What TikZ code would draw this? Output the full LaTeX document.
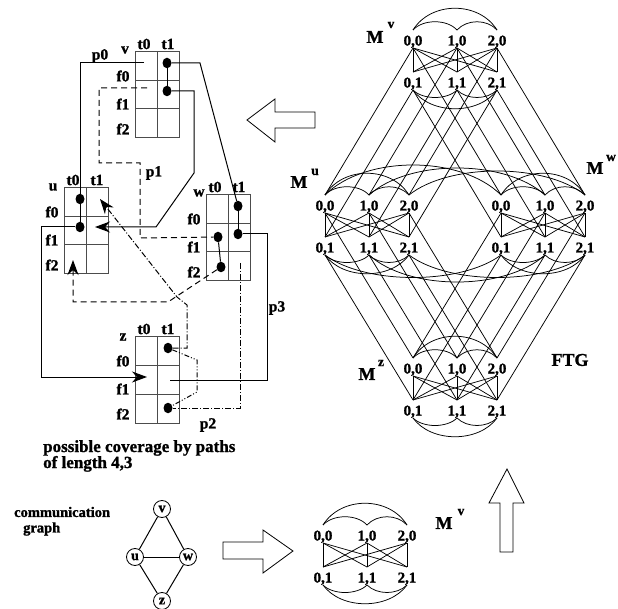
\documentclass[tikz,border=0pt]{standalone}
\usepackage{fontspec}
\setmainfont{Liberation Serif}[BoldFeatures={FakeBold=1.2}]
\usetikzlibrary{arrows.meta,shapes.geometric,calc}
\tikzset{
  txt/.style={inner sep=0pt, font=\bfseries\fontsize{15.5}{17}\selectfont},
  bigtxt/.style={inner sep=0pt, font=\bfseries\fontsize{17}{19}\selectfont},
  lab/.style={inner sep=0pt, anchor=base, font=\bfseries\fontsize{15}{16}\selectfont},
  mbig/.style={inner sep=0pt, font=\bfseries\fontsize{18}{19}\selectfont},
  msup/.style={inner sep=0pt, font=\bfseries\fontsize{13.5}{14}\selectfont},
  tbl/.style={draw=black!70, line width=1pt},
  ln/.style={line width=0.75pt},
  pth/.style={line width=1pt},
  dotn/.style={ellipse, fill=black, inner sep=0pt, minimum width=9pt, minimum height=10.5pt},
  dsh/.style={pth, dash pattern=on 6pt off 4pt},
  dd/.style={pth, dash pattern=on 6pt off 2pt on 1pt off 2pt},
  ddd/.style={pth, dash pattern=on 5pt off 2pt on 1pt off 2pt on 1pt off 2pt},
  tipped/.style={-{Stealth[length=15pt,width=11pt]}},
  cg/.style={circle, draw, line width=0.8pt, minimum size=17pt, inner sep=0pt, font=\bfseries\fontsize{14}{15}\selectfont},
  harrow/.style={draw, line width=0.8pt, fill=white},
}
\newcommand\ctable[3]{%
  \draw[tbl] (#2,#3) rectangle ++(44,86);
  \draw[tbl] (#2+22,#3) -- ++(0,86);
  \draw[tbl] (#2,#3+28.5) -- ++(44,0);
  \draw[tbl] (#2,#3+57) -- ++(44,0);
  \node[txt] (#1-t0) at (#2+9,#3-8) {t0};
  \node[txt] (#1-t1) at (#2+33,#3-8) {t1};
  \node[txt] (#1-f0) at (#2-12,#3+24) {f0};
  \node[txt] (#1-f1) at (#2-12,#3+52) {f1};
  \node[txt] (#1-f2) at (#2-12,#3+77) {f2};
}
\newcommand\ftgmod[3]{%
  \foreach \i/\dx in {0/0,1/44,2/84}{%
    \coordinate (#1-\i-0-a) at (#2+\dx,#3-10);
    \coordinate (#1-\i-0-b) at (#2+\dx,#3+8);
    \coordinate (#1-\i-1-b) at (#2+\dx,#3+32);
    \coordinate (#1-\i-1-a) at (#2+\dx,#3+50);
    \node[lab] (#1-\i-0) at (#2+\dx,#3+5.5) {\i,0};
    \node[lab] (#1-\i-1) at (#2+\dx,#3+47.5) {\i,1};
  }
  \foreach \i in {0,1,2}{\foreach \k in {0,1,2}{\draw[ln] (#1-\i-0-b) -- (#1-\k-1-b);}}
  \draw[ln] (#1-0-0-a) .. controls +(10,-11) and +(-10,-11) .. (#1-1-0-a);
  \draw[ln] (#1-1-0-a) .. controls +(10,-11) and +(-10,-11) .. (#1-2-0-a);
  \draw[ln] (#1-0-0-a) .. controls +(18,-29) and +(-18,-29) .. (#1-2-0-a);
  \draw[ln] (#1-0-1-a) .. controls +(10,10) and +(-10,10) .. (#1-1-1-a);
  \draw[ln] (#1-1-1-a) .. controls +(10,10) and +(-10,10) .. (#1-2-1-a);
  \draw[ln] (#1-0-1-a) .. controls +(18,25) and +(-18,25) .. (#1-2-1-a);
}
\begin{document}
\begin{tikzpicture}[x=1pt,y=-1pt]
\useasboundingbox (0,0) rectangle (618,609);

% ---------- left: tables ----------
\ctable{tv}{135}{52}
\ctable{tu}{64}{188}
\ctable{tw}{206}{195}
\ctable{tz}{135}{337}
\node[txt] (nv) at (125,50) {v};
\node[txt] (nu) at (53,187) {u};
\node[txt] (nw) at (199,193) {w};
\node[txt] (nz) at (123,337) {z};

\node[dotn] (v1) at (167,63) {};
\node[dotn] (v2) at (167,91) {};
\node[dotn] (u1) at (80,199) {};
\node[dotn] (u2) at (80,227) {};
\node[dotn] (w1) at (238,206) {};
\node[dotn] (w2) at (238,234) {};
\node[dotn] (w3) at (218,237) {};
\node[dotn] (w4) at (221,267) {};
\node[dotn] (z1) at (168,348) {};
\node[dotn] (z2) at (168,408) {};

\coordinate (p0s) at (144,63);
\coordinate (p0e) at (147,377);
\coordinate (p1s) at (147,88);
\coordinate (p1e) at (73,260);
\coordinate (p2s) at (240,263);
\coordinate (ua) at (100,199);
\coordinate (ub) at (95,227);
\coordinate (p3e) at (170,380);

% p0
\draw[pth] (p0s) -| (u1);
\draw[pth] (u1) -- (u2);
\draw[pth,tipped] (u2) -- (41,227) |- (p0e);
% p3
\draw[pth] (v1) -- (200,63) -- (w1);
\draw[pth] (w1) -- (w2);
\draw[pth] (w2) -- (267,234) |- (p3e);
\draw[pth] (v1) -- (v2);
\draw[pth,tipped] (v2) -- (194,91) -- (194,173) -- (156,227) -- (ub);
% p1
\draw[dsh] (p1s) -- (99,88) -- (99,163) -- (140,163) -- (140,238) -- (w3);
\draw[pth] (w3) -- (w4);
\draw[dsh,tipped] (w4) -- (168,302) -- (73,302) -- (p1e);
% p2
\draw[dd] (p2s) |- (z2);
\draw[dd,tipped] (z1) -- (187,348) -- (187,305) -- (177,297) -- (ua);
\draw[ddd] (z1) -- (197,360) -- (197,392) -- (z2);

\node[txt] (lp0) at (100,56) {p0};
\node[txt] (lp1) at (154,173) {p1};
\node[txt] (lp2) at (208,425) {p2};
\node[txt] (lp3) at (277,308) {p3};

\node[bigtxt, anchor=base west] (cov1) at (43,452) {possible coverage by paths};
\node[bigtxt, anchor=base west] (cov2) at (43,468) {of length 4,3};

% ---------- communication graph ----------
\node[txt, anchor=west, font=\bfseries\fontsize{14.5}{15}\selectfont] (cgl1) at (14,512) {communication};
\node[txt, anchor=west, font=\bfseries\fontsize{14.5}{15}\selectfont] (cgl2) at (23,529) {graph};
\node[cg] (cv) at (162,509) {v};
\node[cg] (cu) at (135,557) {u};
\node[cg] (cw) at (188,557) {w};
\node[cg] (cz) at (162,601) {z};
\draw[pth] (cv) -- (cu);
\draw[pth] (cv) -- (cw);
\draw[pth] (cu) -- (cw);
\draw[pth] (cu) -- (cz);
\draw[pth] (cw) -- (cz);

% ---------- hollow arrows ----------
\draw[harrow] (223,542) -- (263,542) -- (263,530) -- (293,551) -- (263,573) -- (263,559) -- (223,559) -- cycle;
\draw[harrow] (315,112) -- (275,112) -- (275,99) -- (247,120) -- (275,142) -- (275,128) -- (315,128) -- cycle;
\draw[harrow] (500,552) -- (500,503) -- (489,503) -- (507,469) -- (524,503) -- (513,503) -- (513,552) -- cycle;

% ---------- FTG ----------
\ftgmod{Mv}{413}{40}
\ftgmod{Mu}{325}{205}
\ftgmod{Mw}{501}{205}
\ftgmod{Mz}{413}{368}
\ftgmod{Mb}{323}{535}

\foreach \i in {0,1,2}{%
  \draw[ln] (Mv-\i-0-b) -- (Mu-\i-0-a);
  \draw[ln] (Mv-\i-1-a) -- (Mu-\i-1-b);
  \draw[ln] (Mv-\i-0-b) -- (Mw-\i-0-a);
  \draw[ln] (Mv-\i-1-a) -- (Mw-\i-1-b);
  \draw[ln] (Mu-\i-0-b) -- (Mz-\i-0-a);
  \draw[ln] (Mu-\i-1-a) -- (Mz-\i-1-b);
  \draw[ln] (Mw-\i-0-b) -- (Mz-\i-0-a);
  \draw[ln] (Mw-\i-1-a) -- (Mz-\i-1-b);
}
\draw[ln] (Mu-0-0-a) .. controls +(40,-40) and +(-40,-40) .. (Mw-0-0-a);
\draw[ln] (Mu-1-0-a) .. controls +(40,-36) and +(-40,-36) .. (Mw-1-0-a);
\draw[ln] (Mu-2-0-a) .. controls +(40,-32) and +(-40,-32) .. (Mw-2-0-a);
\draw[ln] (Mu-0-1-a) .. controls +(40,30) and +(-40,30) .. (Mw-0-1-a);
\draw[ln] (Mu-1-1-a) .. controls +(40,36) and +(-40,36) .. (Mw-1-1-a);
\draw[ln] (Mu-2-1-a) .. controls +(40,30) and +(-40,30) .. (Mw-2-1-a);

\node[mbig] (Lv) at (375,37) {M};
\node[msup] (Lvs) at (391,25) {v};
\node[mbig] (Lu) at (299,182) {M};
\node[msup] (Lus) at (315,172) {u};
\node[mbig] (Lw) at (595,168) {M};
\node[msup] (Lws) at (611,158) {w};
\node[mbig] (Lz) at (367,374) {M};
\node[msup] (Lzs) at (381,363) {z};
\node[mbig] (Lb) at (444,523) {M};
\node[msup] (Lbs) at (461,512) {v};
\node[mbig] (ftg) at (570,360) {FTG};
\end{tikzpicture}
\end{document}
